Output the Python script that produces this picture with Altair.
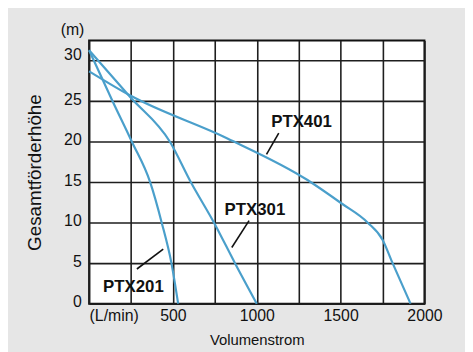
import altair as alt
import pandas as pd

# Pump curves (flow L/min, head m)
ptx201_flow = [0, 140, 255, 364, 433, 491, 531]
ptx201_head = [31.3, 25.0, 20.0, 15.0, 10.0, 5.0, 0.0]

ptx301_flow = [0, 246, 482, 607, 745, 870, 1000]
ptx301_head = [31.3, 25.5, 20.0, 15.0, 10.0, 5.0, 0.0]

ptx401_flow = [0, 246, 825, 1300, 1504, 1662, 1750, 1810, 1917]
ptx401_head = [28.7, 25.7, 20.4, 15.3, 12.4, 10.0, 7.9, 5.0, 0.0]

# Series labels and leader lines
label_names = ["PTX401", "PTX301", "PTX201"]
label_flow = [1267, 989, 264]
label_head = [22.4, 11.5, 2.1]
leader_flow1 = [1131, 954, 285]
leader_head1 = [21.05, 10.26, 4.28]
leader_flow2 = [1058, 851, 442]
leader_head2 = [18.45, 6.93, 6.72]

x_ticks = [0, 250, 500, 750, 1000, 1250, 1500, 1750, 2000]
y_ticks = [0, 5, 10, 15, 20, 25, 30]

rows = []
for name, fl, hd in [("PTX201", ptx201_flow, ptx201_head),
                     ("PTX301", ptx301_flow, ptx301_head),
                     ("PTX401", ptx401_flow, ptx401_head)]:
    for f, h in zip(fl, hd):
        rows.append({"series": name, "flow": f, "head": h})
curves = pd.DataFrame(rows)

labels = pd.DataFrame({"name": label_names, "flow": label_flow, "head": label_head})
leaders = pd.DataFrame({"f1": leader_flow1, "h1": leader_head1,
                        "f2": leader_flow2, "h2": leader_head2})
unit = pd.DataFrame({"t": ["(m)"], "flow": [-99], "head": [33.84]})

xscale = alt.Scale(domain=[0, 2000], nice=False, zero=False)
yscale = alt.Scale(domain=[0, 32.5], nice=False, zero=False)

xaxis = alt.Axis(
    values=x_ticks, format="d",
    labelExpr="datum.value == 0 ? '(L/min)' : (datum.value % 500 == 0 ? datum.label : '')",
    labelAlign=alt.ConditionalAxisLabelAlign(condition={"test": "datum.value == 0", "value": "left"}, value="center"),
    labelFontSize=16, labelColor="#111", labelPadding=4, labelFont="Liberation Sans",
    ticks=False, domain=False, labelFlush=False,
    grid=True, gridColor="#1e1e1e", gridWidth=1.6, gridOpacity=1,
    title="Volumenstrom", titleFontSize=15, titleFontWeight="normal", titleColor="#111",
    titleFont="Liberation Sans", titlePadding=9,
)
yaxis = alt.Axis(
    values=y_ticks, format="d",
    labelFontSize=16, labelColor="#111", labelPadding=8, labelFont="Liberation Sans",
    labelOffset=alt.ConditionalAxisNumber(condition={"test": "datum.value == 30", "value": -6}, value=-2),
    ticks=False, domain=False, labelFlush=False,
    grid=True, gridColor="#1e1e1e", gridWidth=1.6, gridOpacity=1,
    title="Gesamtförderhöhe", titleFontSize=19, titleFontWeight="normal", titleColor="#111",
    titleFont="Liberation Sans", titlePadding=19,
)

lines = alt.Chart(curves).mark_line(strokeWidth=2.2, color="#4a9fcb", interpolate="monotone").encode(
    x=alt.X("flow:Q", scale=xscale, axis=xaxis),
    y=alt.Y("head:Q", scale=yscale, axis=yaxis),
    detail="series:N",
)

leader_rules = alt.Chart(leaders).mark_rule(color="#111", strokeWidth=1.6).encode(
    x="f1:Q", y="h1:Q", x2="f2:Q", y2="h2:Q",
)

text = alt.Chart(labels).mark_text(
    fontSize=17, fontWeight="bold", font="Liberation Sans", color="#111", baseline="middle", align="center"
).encode(x="flow:Q", y="head:Q", text="name:N")

unit_text = alt.Chart(unit).mark_text(
    fontSize=16, font="Liberation Sans", color="#111", baseline="middle", align="center"
).encode(x="flow:Q", y="head:Q", text="t:N")

chart = alt.layer(lines, leader_rules, text, unit_text).properties(
    width=339, height=266,
    background="#e6e6e6",
    autosize=alt.AutoSizeParams(type="none"),
    padding={"left": 82, "top": 31, "right": 41, "bottom": 47},
).configure_view(
    fill="white", stroke="#111", strokeWidth=2,
)

chart.save("out.html", embed_options={"renderer": "svg", "actions": False})
